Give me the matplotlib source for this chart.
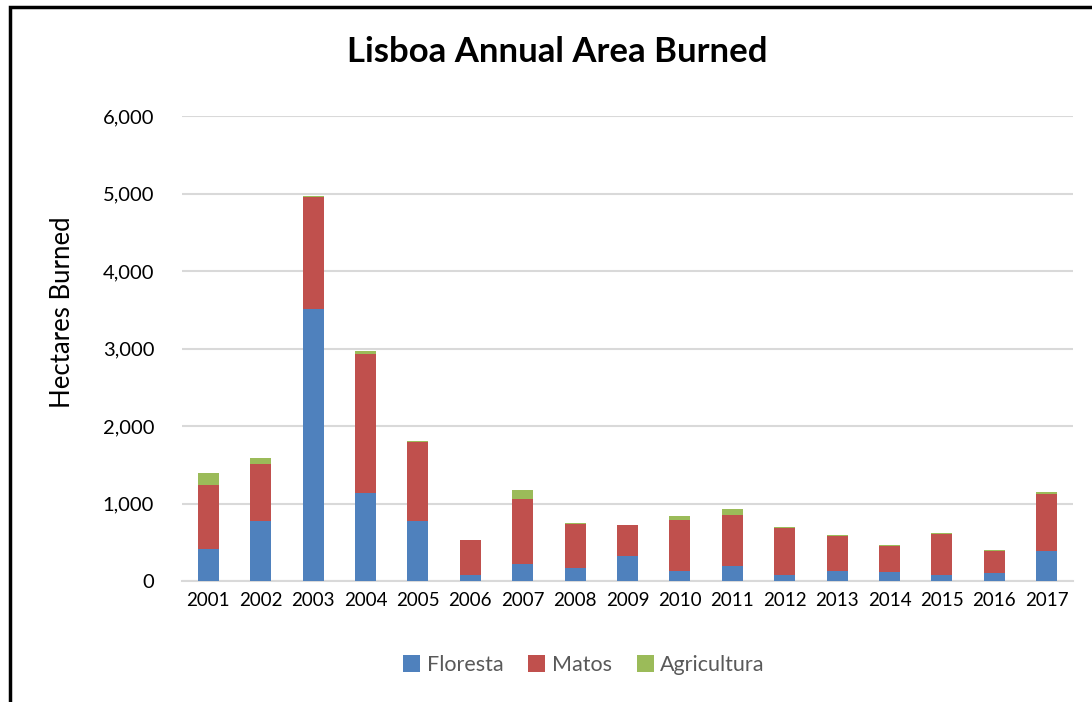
import numpy as np
import matplotlib.pyplot as plt
from matplotlib.patches import Rectangle

years = [str(y) for y in range(2001, 2018)]
floresta = [413, 774, 3510, 1131, 774, 80, 219, 167, 318, 124, 197, 82, 129, 116, 77, 103, 386]
matos = [830, 740, 1449, 1794, 1024, 445, 845, 563, 399, 666, 661, 596, 446, 335, 528, 283, 743]
agricultura = [146, 77, 13, 43, 8, 10, 108, 12, 8, 43, 65, 17, 13, 13, 13, 13, 13]

colors = ['#4f81bd', '#c0504d', '#9bbb59']
font = ['Lato', 'DejaVu Sans']

fig = plt.figure(figsize=(10.92, 7.02), dpi=100)
ax = fig.add_axes([182 / 1092, 1 - 581 / 702, 891 / 1092, 465 / 702])

x = np.arange(len(years))
f = np.array(floresta)
m = np.array(matos)
a = np.array(agricultura)
ax.bar(x, f, width=0.4, color=colors[0], label='Floresta', zorder=3)
ax.bar(x, m, width=0.4, bottom=f, color=colors[1], label='Matos', zorder=3)
ax.bar(x, a, width=0.4, bottom=f + m, color=colors[2], label='Agricultura', zorder=3)

ax.set_xlim(-0.5, len(years) - 0.5)
ax.set_ylim(0, 6000)
ax.set_yticks(range(0, 6001, 1000))
ax.set_yticklabels([f'{v:,}' for v in range(0, 6001, 1000)], fontfamily=font, fontsize=14.5)
ax.set_xticks(x)
ax.set_xticklabels(years, fontfamily=font, fontsize=13.5)
ax.tick_params(length=0, pad=8)
ax.tick_params(axis='y', pad=20)
ax.yaxis.grid(True, color='#d9d9d9', linewidth=1.5, zorder=0)
for s in ['top', 'right', 'left']:
    ax.spines[s].set_visible(False)
ax.spines['bottom'].set_color('#d9d9d9')
ax.spines['bottom'].set_linewidth(1.5)

fig.text(63 / 1092, 1 - 312 / 702, 'Hectares Burned', rotation=90, ha='center', va='center',
         fontfamily=font, fontsize=18.5)
fig.text(557 / 1092, 1 - 52 / 702, 'Lisboa Annual Area Burned', ha='center', va='center',
         fontfamily=font, fontsize=25, fontweight='bold')

leg = fig.legend(loc='center', bbox_to_anchor=(584 / 1092, 1 - 665 / 702), ncol=3, frameon=False,
                 prop={'family': font, 'size': 15.5}, handlelength=0.8, handleheight=0.8,
                 handletextpad=0.3, columnspacing=1.15)
for t in leg.get_texts():
    t.set_color('#595959')

# chart border
fig.add_artist(Rectangle((9.5 / 1092, -0.1), 1.2, 1 - 6.5 / 702 + 0.1, transform=fig.transFigure,
                         fill=False, edgecolor='black', linewidth=2.5))

plt.savefig('out.png', dpi=100)
